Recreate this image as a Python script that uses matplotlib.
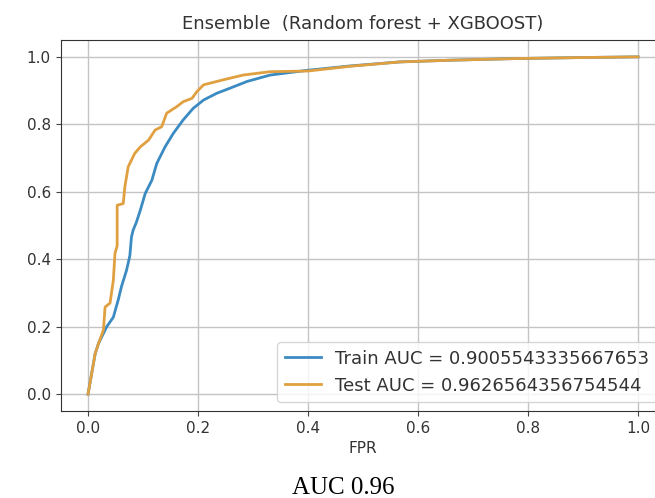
import matplotlib
matplotlib.use('Agg')
import matplotlib.pyplot as plt

# ROC points
train_fpr = [0.0, 0.013, 0.019, 0.028, 0.034, 0.046, 0.055, 0.061, 0.070, 0.076,
             0.079, 0.082, 0.088, 0.095, 0.104, 0.116, 0.125, 0.140, 0.155, 0.173,
             0.191, 0.210, 0.234, 0.258, 0.289, 0.331, 0.398, 0.476, 0.567, 0.658,
             0.779, 0.900, 1.0]
train_tpr = [0.0, 0.12, 0.15, 0.18, 0.20, 0.228, 0.28, 0.32, 0.367, 0.41,
             0.466, 0.486, 0.51, 0.545, 0.595, 0.634, 0.684, 0.733, 0.773, 0.813,
             0.847, 0.872, 0.892, 0.907, 0.927, 0.946, 0.960, 0.973, 0.985, 0.990,
             0.995, 0.998, 1.0]

test_fpr = [0.0, 0.013, 0.019, 0.028, 0.031, 0.040, 0.046, 0.049, 0.053, 0.053,
            0.064, 0.067, 0.073, 0.085, 0.095, 0.110, 0.122, 0.134, 0.143, 0.161,
            0.173, 0.189, 0.198, 0.210, 0.246, 0.282, 0.331, 0.400, 0.476, 0.567,
            0.658, 0.780, 0.900, 1.0]
test_tpr = [0.0, 0.12, 0.15, 0.19, 0.258, 0.27, 0.337, 0.417, 0.44, 0.56,
            0.565, 0.615, 0.674, 0.714, 0.733, 0.753, 0.783, 0.793, 0.833, 0.852,
            0.867, 0.877, 0.897, 0.917, 0.932, 0.946, 0.956, 0.958, 0.972, 0.985,
            0.990, 0.995, 0.998, 1.0]

train_auc = '0.9005543335667653'
test_auc = '0.9626564356754544'
ticks = [0.0, 0.2, 0.4, 0.6, 0.8, 1.0]

fig = plt.figure(figsize=(6.55, 4.98), dpi=100)
# axes run past the right edge: the reference is cropped there
ax = fig.add_axes([0.0924, 0.1747, 0.9237, 0.745])

ax.plot(train_fpr, train_tpr, color='#3b8bc2', lw=2, label=f'Train AUC = {train_auc}')
ax.plot(test_fpr, test_tpr, color='#e0a040', lw=2, label=f'Test AUC = {test_auc}')

ax.set_xticks(ticks)
ax.set_yticks(ticks)
ax.set_xticklabels([f'{t:.1f}' for t in ticks])
ax.set_yticklabels([f'{t:.1f}' for t in ticks])
ax.tick_params(labelsize=11, colors='#444444', labelcolor='#333333')
ax.grid(True, color='#c4c4c4', lw=1)
for s in ax.spines.values():
    s.set_color('#333333')
ax.spines['right'].set_visible(False)

ax.set_title('Ensemble  (Random forest + XGBOOST)', fontsize=13, color='#333333', pad=8)
ax.set_xlabel('FPR', fontsize=11, color='#333333')
ax.legend(loc='lower right', fontsize=13, labelcolor='#333333')

fig.text(0.524, 0.008, 'AUC 0.96', family='Liberation Serif', fontsize=18,
         ha='center', va='baseline', color='black')

fig.savefig('out.png', dpi=100)
